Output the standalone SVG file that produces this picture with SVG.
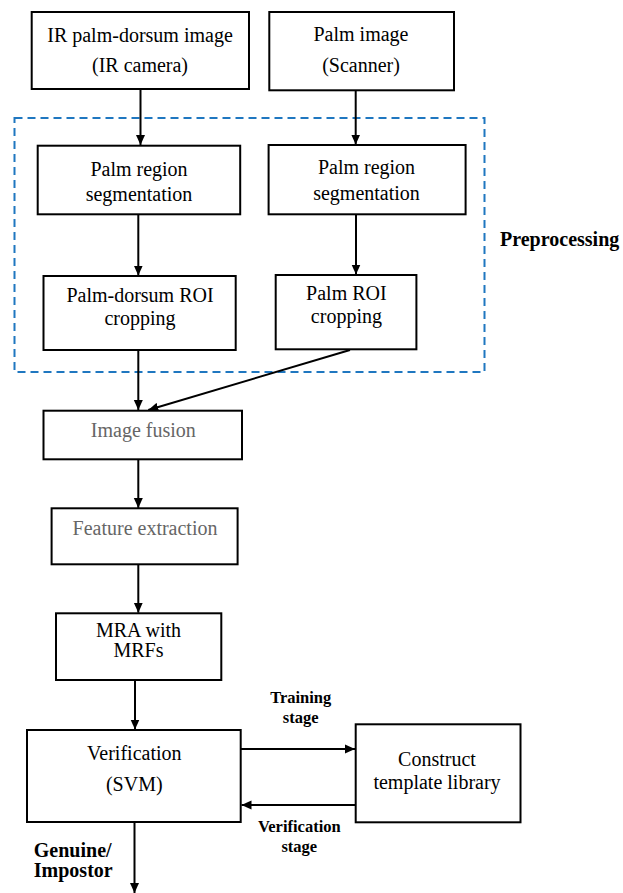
<svg xmlns="http://www.w3.org/2000/svg" width="623" height="893" viewBox="0 0 623 893">
<defs>
<marker id="ah" markerWidth="10" markerHeight="10" viewBox="0 0 10 10" refX="10" refY="5" orient="auto" markerUnits="userSpaceOnUse">
<path d="M0,0.5 L10,5 L0,9.5 Z" fill="#000"/>
</marker>
<style>
.box{fill:#fff;stroke:#000;stroke-width:2}
.t{font-family:"Liberation Serif","Times New Roman",serif;font-size:20px;fill:#000;text-anchor:middle}
.g{fill:#666}
.b{font-family:"Liberation Serif","Times New Roman",serif;font-weight:bold;fill:#000}
.c{stroke:#000;stroke-width:2;fill:none;marker-end:url(#ah)}
</style>
</defs>
<rect x="0" y="0" width="623" height="893" fill="#fff"/>
<g id="preprocessing">
<rect x="14.5" y="118" width="470" height="254" fill="none" stroke="#1f77c0" stroke-width="2" stroke-dasharray="8,5"/>
<text class="b" x="500" y="246" font-size="20">Preprocessing</text>
</g>
<g id="connectors">
<line class="c" x1="140.5" y1="89" x2="140.5" y2="145"/>
<line class="c" x1="355.7" y1="90" x2="355.7" y2="144.5"/>
<line class="c" x1="138.3" y1="214.5" x2="138.3" y2="275.5"/>
<line class="c" x1="356" y1="214.5" x2="356" y2="274.5"/>
<line class="c" x1="138.3" y1="350" x2="138.3" y2="410"/>
<line class="c" x1="350" y1="350" x2="148.3" y2="410"/>
<line class="c" x1="138.3" y1="459.3" x2="138.3" y2="508"/>
<line class="c" x1="138.3" y1="564.3" x2="138.3" y2="612.7"/>
<line class="c" x1="135" y1="680" x2="135" y2="729.5"/>
<line class="c" x1="240.7" y1="749" x2="355" y2="749"/>
<line class="c" x1="355.7" y1="805" x2="241.5" y2="805"/>
<line class="c" x1="134.5" y1="822" x2="134.5" y2="893"/>
</g>
<g id="n-ir">
<rect class="box" x="31.7" y="12" width="217.3" height="77"/>
<text class="t" x="140" y="42">IR palm-dorsum image</text>
<text class="t" x="140" y="72">(IR camera)</text>
</g>
<g id="n-palm">
<rect class="box" x="269.3" y="12" width="184.7" height="78.3"/>
<text class="t" x="361" y="41">Palm image</text>
<text class="t" x="361" y="72">(Scanner)</text>
</g>
<g id="n-seg1">
<rect class="box" x="37.7" y="145.7" width="202.5" height="68.6"/>
<text class="t" x="139" y="175.5">Palm region</text>
<text class="t" x="139" y="201">segmentation</text>
</g>
<g id="n-seg2">
<rect class="box" x="268.6" y="145" width="197" height="69.3"/>
<text class="t" x="366.5" y="174">Palm region</text>
<text class="t" x="366.5" y="200">segmentation</text>
</g>
<g id="n-roi1">
<rect class="box" x="43.5" y="276" width="192.2" height="74"/>
<text class="t" x="140" y="301.7">Palm-dorsum ROI</text>
<text class="t" x="140" y="325">cropping</text>
</g>
<g id="n-roi2">
<rect class="box" x="275.7" y="275" width="140.7" height="74.3"/>
<text class="t" x="346.4" y="300">Palm ROI</text>
<text class="t" x="346.4" y="323.3">cropping</text>
</g>
<g id="n-fusion">
<rect class="box" x="43.5" y="410.7" width="198.5" height="48.6"/>
<text class="t g" x="143.3" y="436.7">Image fusion</text>
</g>
<g id="n-feature">
<rect class="box" x="51.6" y="508.3" width="186" height="56"/>
<text class="t g" x="145" y="535">Feature extraction</text>
</g>
<g id="n-mra">
<rect class="box" x="56" y="613.3" width="165.3" height="66.7"/>
<text class="t" x="138.5" y="636.7">MRA with</text>
<text class="t" x="138.5" y="656.7">MRFs</text>
</g>
<g id="n-verif">
<rect class="box" x="27" y="730" width="213.7" height="92"/>
<text class="t" x="134.3" y="760">Verification</text>
<text class="t" x="134.3" y="790.7">(SVM)</text>
</g>
<g id="n-construct">
<rect class="box" x="355.7" y="724.3" width="164.8" height="98"/>
<text class="t" x="437" y="765.7">Construct</text>
<text class="t" x="437" y="789">template library</text>
</g>
<g id="labels">
<text class="b" x="300.7" y="702.7" font-size="16.5" text-anchor="middle">Training</text>
<text class="b" x="300.7" y="722.7" font-size="16.5" text-anchor="middle">stage</text>
<text class="b" x="299.3" y="831.7" font-size="16.5" text-anchor="middle">Verification</text>
<text class="b" x="299.3" y="851.7" font-size="16.5" text-anchor="middle">stage</text>
<text class="b" x="33.8" y="857.3" font-size="20">Genuine/</text>
<text class="b" x="33.8" y="877.3" font-size="20">Impostor</text>
</g>
</svg>
